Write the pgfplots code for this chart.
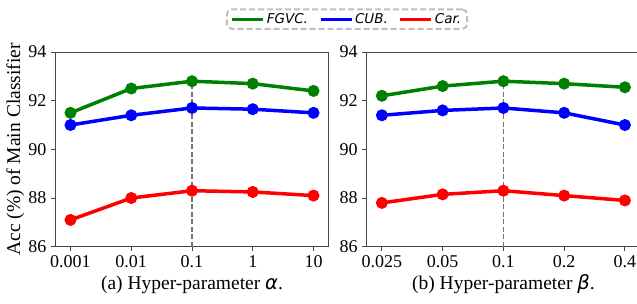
\documentclass[border=0pt]{standalone}
\usepackage{fontspec}
\setmainfont{Liberation Serif}
\newfontfamily\dejavu{DejaVu Sans}
\usepackage{pgfplots}
\pgfplotsset{compat=1.18}
\definecolor{mgreen}{RGB}{0,128,0}
\definecolor{mblue}{RGB}{0,0,255}
\definecolor{mred}{RGB}{255,0,0}
\definecolor{spine}{RGB}{70,70,70}
\pgfplotsset{
  hp/.style={
    scale only axis, width=273.4pt, height=194.7pt,
    xmin=-0.25, xmax=4.25, ymin=86, ymax=94,
    ytick={86,88,90,92,94},
    xtick={0,1,2,3,4},
    tick align=outside, xtick pos=bottom, ytick pos=left,
    major tick length=4.5pt,
    axis line style={spine, line width=0.9pt},
    every tick/.style={spine, line width=0.9pt},
    tick label style={font=\fontsize{18}{20}\selectfont},
    /pgf/number format/assume math mode=true,
    xticklabel style={yshift=-1pt},
    yticklabel style={xshift=-1pt},
    xlabel style={font=\fontsize{19.5}{22}\selectfont, at={(0.5,0)}, anchor=base, yshift=-43pt},
    every axis plot/.append style={line width=3.5pt, mark=*, mark size=5.5pt},
  },
}
\begin{document}
\begin{tikzpicture}
\begin{axis}[hp, at={(55.3pt,57.3pt)}, anchor=south west,
  xticklabels={0.001,0.01,0.1,1,10},
  xlabel={(a) Hyper-parameter {\dejavu\itshape α}.},
  ylabel={Acc (\%) of Main Classifier},
  ylabel style={font=\fontsize{19.5}{22}\selectfont},
  ylabel shift=-3pt,
  legend columns=3,
  legend style={at={(1.067,1.169)}, anchor=center, draw=black!25, dashed,
    dash pattern=on 6pt off 3pt, line width=2pt, rounded corners=5pt,
    font=\dejavu\itshape\fontsize{13.5}{16}\selectfont,
    inner xsep=4pt, inner ysep=2pt,
    /tikz/every even column/.append style={column sep=9pt}},
  legend image code/.code={\draw[#1, mark=none, solid, line width=3pt] (0pt,0pt) -- (31pt,0pt);},
]
\addplot[mgreen, mark options={fill=mgreen, line width=1pt}] coordinates {(0,91.5) (1,92.5) (2,92.8) (3,92.7) (4,92.4)};
\addlegendentry{FGVC.}
\addplot[mblue, mark options={fill=mblue, line width=1pt}] coordinates {(0,91.0) (1,91.4) (2,91.7) (3,91.65) (4,91.5)};
\addlegendentry{CUB.}
\addplot[mred, mark options={fill=mred, line width=1pt}] coordinates {(0,87.1) (1,88.0) (2,88.3) (3,88.25) (4,88.1)};
\addlegendentry{Car.}
\addplot[black!55, dashed, dash pattern=on 5pt off 2.5pt, line width=1.5pt, mark=none, forget plot] coordinates {(2,86) (2,92.8)};
\end{axis}
\begin{axis}[hp, at={(366.7pt,57.3pt)}, anchor=south west,
  xticklabels={0.025,0.05,0.1,0.2,0.4},
  xlabel={(b) Hyper-parameter {\dejavu\itshape β}.},
]
\addplot[mgreen, mark options={fill=mgreen, line width=1pt}] coordinates {(0,92.2) (1,92.6) (2,92.8) (3,92.7) (4,92.55)};
\addplot[mblue, mark options={fill=mblue, line width=1pt}] coordinates {(0,91.4) (1,91.6) (2,91.7) (3,91.5) (4,91.0)};
\addplot[mred, mark options={fill=mred, line width=1pt}] coordinates {(0,87.8) (1,88.15) (2,88.3) (3,88.1) (4,87.9)};
\addplot[black!55, dashed, dash pattern=on 5pt off 2.5pt, line width=1.5pt, mark=none] coordinates {(2,86) (2,92.8)};
\end{axis}
\pgfresetboundingbox
\path[use as bounding box] (0,0) rectangle (637pt,304pt);
\end{tikzpicture}
\end{document}
